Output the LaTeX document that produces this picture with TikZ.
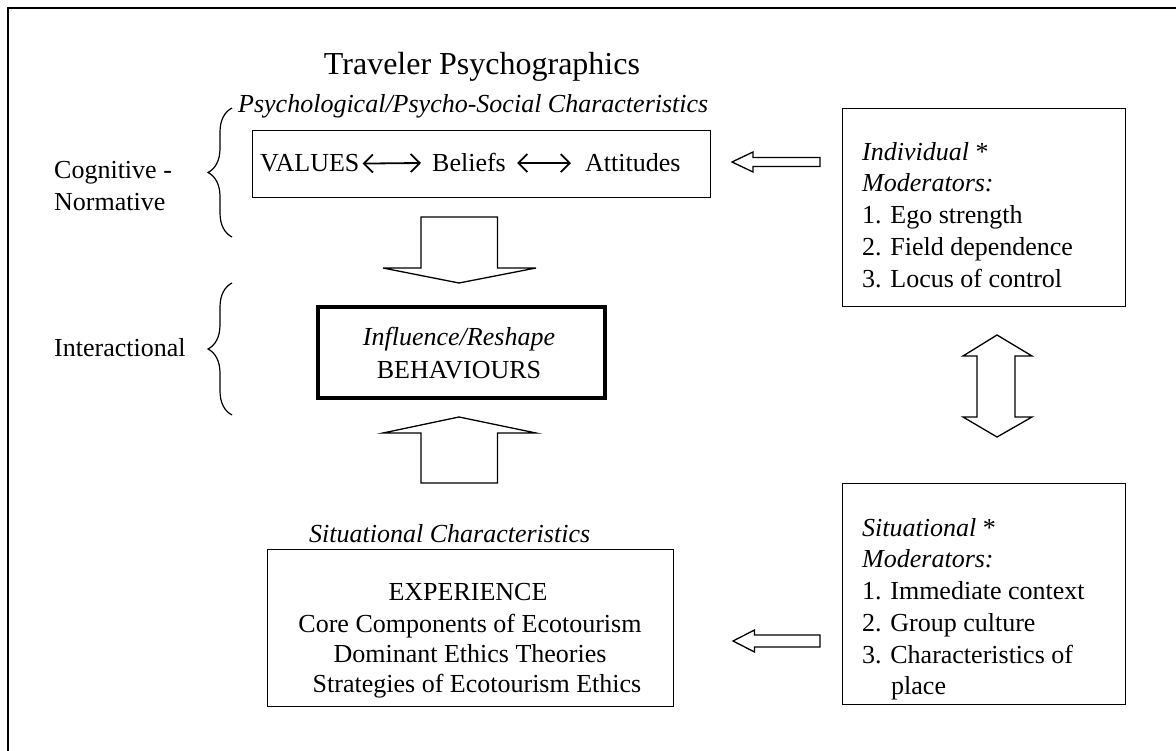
\documentclass[tikz,border=0pt]{standalone}
\usepackage{fontspec}
\setmainfont{Liberation Serif}
\usetikzlibrary{arrows.meta,decorations.pathreplacing}
\begin{document}
\begin{tikzpicture}[x=1pt,y=-1pt,
  txt/.style={inner sep=0pt, font=\fontsize{26}{32}\selectfont},
  itxt/.style={inner sep=0pt, font=\fontsize{26}{32}\selectfont\itshape},
  box/.style={draw, line width=1.3pt, inner sep=0pt, anchor=north west},
  blk/.style={draw, line width=1.3pt, fill=white, line join=miter},
  brc/.style={decorate, decoration={brace, amplitude=24pt}, line width=1.2pt},
  dbl/.style={{Straight Barb[length=9pt,width=18pt]}-{Straight Barb[length=9pt,width=18pt]}, line width=1.8pt}
]
\useasboundingbox (0,0) rectangle (1176,751);
\fill[white] (0,0) rectangle (1176,751);
% frame
\draw[line width=2.5pt] (8,760) -- (8,8) -- (1185,8);

% title and header
\node[txt, font=\fontsize{32}{38}\selectfont, anchor=base] (title) at (482,75) {Traveler Psychographics};
\node[itxt, anchor=base west] (psy) at (238,113) {Psychological/Psycho-Social Characteristics};

% box 1
\node[box, minimum width=458pt, minimum height=67pt] (b1) at (252,130) {};
\node[txt, anchor=base west] (values) at (260,172) {VALUES};
\node[txt, anchor=base west] (beliefs) at (432,172) {Beliefs};
\node[txt, anchor=base west] (attitudes) at (585,172) {Attitudes};
\draw[dbl] ([xshift=3pt]values.east) -- ([xshift=-11pt]beliefs.west);
\draw[dbl] ([xshift=11pt]beliefs.east) -- ([xshift=-14pt]attitudes.west);

% left labels and braces
\node[txt, anchor=base west] (cog) at (54,179) {Cognitive -};
\node[txt, anchor=base west] (norm) at (54,211) {Normative};
\draw[brc] (232,237) -- (232,108);
\node[txt, anchor=base west] (inter) at (54,357) {Interactional};
\draw[brc] (232,415) -- (232,283);

% behaviours
\node[box, line width=4pt, minimum width=287pt, minimum height=91pt] (beh) at (316,305) {};
\node[itxt, anchor=base] (infl) at (459,346) {Influence/Reshape};
\node[txt, anchor=base] (behav) at (459,379) {BEHAVIOURS};

% down and up block arrows
\draw[blk] (421,217) -- (497.5,217) -- (497.5,268) -- (536,268) -- (459,283) -- (383,268) -- (421,268) -- cycle;
\draw[blk] (459,417) -- (536,433) -- (497.5,433) -- (497.5,483) -- (421,483) -- (421,433) -- (383,433) -- cycle;

% situational characteristics box
\node[itxt, anchor=base west] (sitc) at (309,542) {Situational Characteristics};
\node[box, minimum width=406pt, minimum height=157pt] (exp) at (267,549) {};
\node[txt, anchor=base] (e1) at (468,600) {EXPERIENCE};
\node[txt, anchor=base] (e2) at (470,632) {Core Components of Ecotourism};
\node[txt, anchor=base] (e3) at (470,662) {Dominant Ethics Theories};
\node[txt, anchor=base] (e4) at (477,692) {Strategies of Ecotourism Ethics};

% individual moderators
\node[box, minimum width=283pt, minimum height=198pt] (ind) at (842,108) {};
\node[txt, anchor=base west] (i1) at (862,161) {\itshape Individual\upshape\ *};
\node[itxt, anchor=base west] (i2) at (862,192) {Moderators:};
\node[txt, anchor=base west] (i3) at (862,224) {1. Ego strength};
\node[txt, anchor=base west] (i4) at (862,256) {2. Field dependence};
\node[txt, anchor=base west] (i5) at (862,288) {3. Locus of control};

% situational moderators
\node[box, minimum width=283pt, minimum height=221pt] (sit) at (842,483) {};
\node[txt, anchor=base west] (s1) at (862,536) {\itshape Situational\upshape\ *};
\node[itxt, anchor=base west] (s2) at (862,567) {Moderators:};
\node[txt, anchor=base west] (s3) at (862,599) {1. Immediate context};
\node[txt, anchor=base west] (s4) at (862,631) {2. Group culture};
\node[txt, anchor=base west] (s5) at (862,663) {3. Characteristics of};
\node[txt, anchor=base west] (s6) at (891,694) {place};

% left block arrows
\draw[blk] (732,162) -- (753,152) -- (753,157.5) -- (820,157.5) -- (820,166.5) -- (753,166.5) -- (753,172) -- cycle;
\draw[blk] (733,641) -- (754.5,630) -- (754.5,635) -- (820,635) -- (820,647) -- (754.5,647) -- (754.5,652) -- cycle;

% vertical double block arrow
\draw[blk] (997,335) -- (1032,356) -- (1015,356) -- (1015,417) -- (1032,417) -- (997,437) -- (963,417) -- (977,417) -- (977,356) -- (963,356) -- cycle;
\end{tikzpicture}
\end{document}
